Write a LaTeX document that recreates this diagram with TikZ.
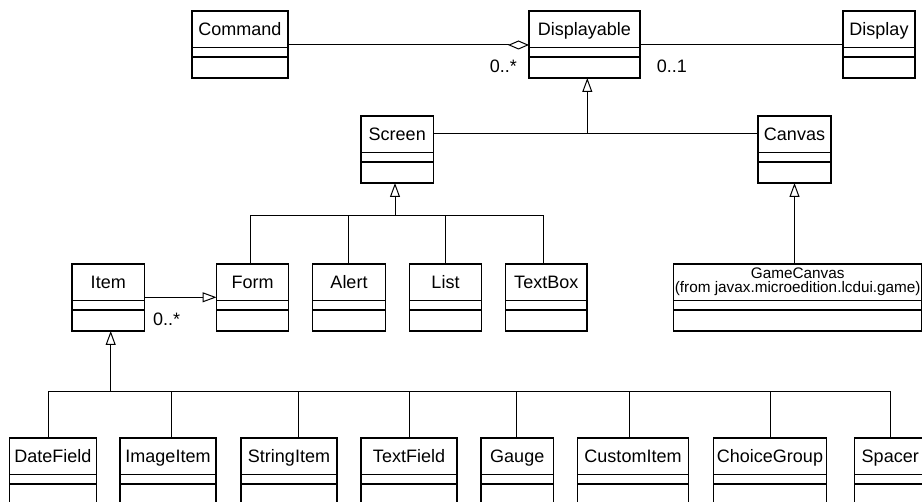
\documentclass[tikz,border=0pt]{standalone}
\usepackage{fontspec}
\setmainfont{Liberation Sans}
\usetikzlibrary{arrows.meta,calc}
\tikzset{
  clsbox/.style={draw, rectangle, line width=1.1pt, inner sep=0pt, outer sep=0pt, anchor=north west},
  clsname/.style={anchor=base, inner sep=0pt, font=\fontsize{18pt}{20pt}\selectfont},
  clssmall/.style={anchor=base, inner sep=0pt, font=\fontsize{15.3pt}{17pt}\selectfont},
  mult/.style={inner sep=0pt, font=\fontsize{18pt}{20pt}\selectfont},
  conn/.style={line width=1pt},
  gen/.style={conn, -{Triangle[open, length=14pt, width=10pt, line width=1pt]}},
  agg/.style={conn, -{Diamond[open, length=21pt, width=9pt, line width=1pt]}},
}
% name, x left, x right, y top, height
\newcommand\umlbox[5]{%
  \node[clsbox, minimum width={(#3)-(#2)}, minimum height=#5] (#1) at (#2,#4) {};
  \draw[line width=1.1pt] ($(#1.north west)+(0,36.5)$) -- ($(#1.north east)+(0,36.5)$);
  \draw[line width=1.1pt] ($(#1.north west)+(0,46)$) -- ($(#1.north east)+(0,46)$);
}
% name, x left, x right, y top, height, label
\newcommand\umlclass[6]{%
  \umlbox{#1}{#2}{#3}{#4}{#5}
  \node[clsname] (#1-name) at ($(#1.north)+(0,24.5)$) {#6};
}
\begin{document}
\begin{tikzpicture}[x=1pt,y=-1pt]
\useasboundingbox (0,0) rectangle (922,502);
\clip (0,0) rectangle (922,502);

% row 1
\umlclass{cmd}{192}{288}{11}{67}{Command}
\umlclass{disp}{529}{640}{11}{67}{Displayable}
\umlclass{dsp}{843}{915}{11}{67}{Display}
% row 2
\umlclass{scr}{361}{433.5}{116}{67}{Screen}
\umlclass{cnv}{758}{831}{116}{67}{Canvas}
% row 3
\umlclass{item}{72}{144.5}{264}{67}{Item}
\umlclass{form}{216.5}{288.5}{264}{67}{Form}
\umlclass{alert}{312.5}{385.5}{264}{67}{Alert}
\umlclass{list}{409.5}{481.5}{264}{67}{List}
\umlclass{tbox}{505.5}{587}{264}{67}{TextBox}
\umlbox{game}{673.5}{922}{264}{67}
\node[clssmall] (game-name) at ($(game.north)+(0,14.7)$) {GameCanvas};
\node[clssmall] (game-pkg) at ($(game.north)+(0,28.7)$) {(from javax.microedition.lcdui.game)};
% row 4
\umlclass{date}{9.5}{96.5}{438}{80}{DateField}
\umlclass{img}{120}{216}{438}{80}{ImageItem}
\umlclass{str}{241}{337}{438}{80}{StringItem}
\umlclass{tf}{361}{457}{438}{80}{TextField}
\umlclass{gauge}{481}{553.5}{438}{80}{Gauge}
\umlclass{cust}{577.5}{688.5}{438}{80}{CustomItem}
\umlclass{choice}{713.5}{826.5}{438}{80}{ChoiceGroup}
\umlclass{spacer}{854.5}{926}{438}{80}{Spacer}

% associations
\draw[agg] ($(cmd.north east)+(0,34)$) -- ($(disp.north west)+(0,34)$);
\draw[conn] ($(disp.north east)+(0,34)$) -- ($(dsp.north west)+(0,34)$);
\node[mult, anchor=base east] (m1) at (517,73) {0..*};
\node[mult, anchor=base west] (m2) at (656.7,73) {0..1};

% Displayable generalization
\coordinate (dj) at (587.3,133.7);
\draw[gen] (dj) -- (dj |- disp.south);
\draw[conn] ($(scr.north east)+(0,17.7)$) -- ($(cnv.north west)+(0,17.7)$);

% Canvas generalization
\draw[gen] (cnv.south |- game.north) -- (cnv.south);

% Screen generalization
\coordinate (sj) at (395,216);
\draw[gen] (sj) -- (sj |- scr.south);
\draw[conn] ([xshift=-2.2pt]form.north) |- (sj);
\draw[conn] ([xshift=-0.7pt]alert.north) |- (sj);
\draw[conn] ([xshift=-0.5pt]list.north) |- (sj);
\draw[conn] ([xshift=-2.5pt]tbox.north) |- (sj);

% Item -> Form
\draw[gen] ($(item.north east)+(0,33.3)$) -- ($(form.north west)+(0,33.3)$);
\node[mult, anchor=base west] (m3) at (153,325.7) {0..*};

% Item generalization
\coordinate (ij) at (110.7,392);
\draw[gen] (ij) -- (ij |- item.south);
\draw[conn] ([xshift=-4.7pt]date.north) |- (ij);
\draw[conn] ([xshift=3pt]img.north) |- (ij);
\draw[conn] ([xshift=9pt]str.north) |- (ij);
\draw[conn] (tf.north) |- (ij);
\draw[conn] ([xshift=-1.25pt]gauge.north) |- (ij);
\draw[conn] ([xshift=-4pt]cust.north) |- (ij);
\draw[conn] (choice.north) |- (ij);
\draw[conn] (spacer.north) |- (ij);
\end{tikzpicture}
\end{document}
